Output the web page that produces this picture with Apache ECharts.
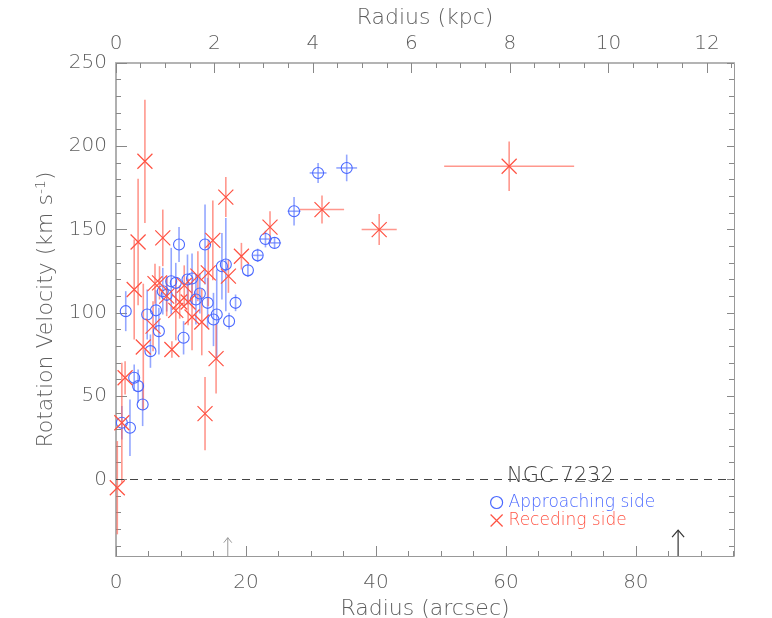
<!DOCTYPE html>
<html>
<head>
<meta charset="utf-8">
<script src="https://cdn.jsdelivr.net/npm/echarts@6/dist/echarts.min.js"></script>
<style>html,body{margin:0;padding:0;background:#fff;}#c{width:772px;height:618px;}</style>
</head>
<body>
<div id="c"></div>
<script>
// ---- data ----
// Approaching side: radius (arcsec), velocity (km/s), radius error, velocity error
const apprR    = [0.9, 1.5, 2.15, 2.8, 3.4, 4.1, 4.8, 5.3, 6.15, 6.6, 7.2, 7.8, 8.5, 9.2, 9.7, 10.4, 11.0, 11.7, 12.3, 12.9, 13.7, 14.1, 15.0, 15.5, 16.3, 16.9, 17.4, 18.4, 20.3, 21.8, 23.0, 24.4, 27.4, 31.1, 35.5];
const apprV    = [34, 101, 31, 61, 56, 45, 99, 77, 101.5, 89, 113, 110.8, 119, 118, 141, 85, 120, 120.6, 108, 111.6, 141, 106, 96, 99, 128, 129, 95, 106, 125.5, 134.5, 144.3, 142, 161, 184, 187];
const apprRErr = [0, 0, 0, 0, 0, 0, 0, 0, 0, 0, 0, 0, 0, 0, 0, 0, 0, 0, 0, 0, 0, 0, 0, 0, 0, 0, 0, 0, 0, 0.8, 1.0, 1.0, 1.0, 1.3, 1.6];
const apprVErr = [10, 12, 17, 8, 10, 13, 15, 10, 12, 14, 14, 10, 20, 12, 10.5, 10, 15, 15, 15, 12, 24, 15, 16, 27, 20, 28, 5, 5, 4, 4, 5, 3, 8.5, 6, 8];

// Receding side
const recR    = [0.2, 0.9, 1.4, 2.8, 3.4, 4.2, 4.45, 5.7, 6.0, 6.7, 7.2, 7.8, 8.6, 9.2, 9.8, 10.5, 11.1, 11.7, 12.6, 13.2, 13.7, 14.2, 14.9, 15.4, 16.9, 17.3, 19.3, 23.7, 31.7, 40.5, 60.5];
const recV    = [-5, 34, 61, 114, 142.5, 79.5, 191, 92, 117.5, 118, 145, 110, 78, 101.5, 106.5, 116.5, 106.5, 97.5, 122, 94.5, 39.5, 124, 143.5, 72.5, 169.5, 122, 134, 151.5, 162, 150, 188];
const recRErr = [0, 0, 0, 0, 0, 0, 0, 0, 0, 0, 0, 0, 0, 0, 0, 0, 0, 0, 0, 0, 0, 0, 0, 0, 0, 0, 0, 0, 3.4, 2.7, 10];
const recVErr = [28, 36, 10, 30, 38, 38, 37, 15, 12, 10, 17, 12, 5, 18, 10, 12, 14, 20, 15, 20, 22, 20, 24, 21, 12, 10, 8, 9.5, 8.4, 9.3, 14.8];

// Arrows at the bottom (radius in arcsec, top of arrow in km/s)
const arrowR   = [17.2, 86.5];
const arrowTop = [-35, -30.5];

// Axis ticks
const xMajor   = [0, 20, 40, 60, 80];
const xMinor   = [5, 10, 15, 25, 30, 35, 45, 50, 55, 65, 70, 75, 85, 90, 95];
const kpcMajor = [0, 2, 4, 6, 8, 10, 12];
const kpcMinor = [0.5, 1, 1.5, 2.5, 3, 3.5, 4.5, 5, 5.5, 6.5, 7, 7.5, 8.5, 9, 9.5, 10.5, 11, 11.5, 12.5];
const yMajor   = [0, 50, 100, 150, 200, 250];
const yMinor   = [-40, -30, -20, -10, 10, 20, 30, 40, 60, 70, 80, 90, 110, 120, 130, 140, 160, 170, 180, 190, 210, 220, 230, 240];

const X_MAX = 95.1, KPC_MAX = 12.55, Y_MIN = -46, Y_MAX = 250;

// ---- styling ----
const FONT = 'DejaVu Sans';
const TXT = '#5e5e5e';
const BLUE = '#4a68ff';
const RED = '#ff5242';
const BLUE_ERR = 'rgba(90,120,255,0.65)';
const RED_ERR = 'rgba(255,95,80,0.65)';

function zip4(a, b, c, d) { return a.map((v, i) => [v, b[i], c[i], d[i]]); }
const apprData = zip4(apprR, apprV, apprRErr, apprVErr);
const recData = zip4(recR, recV, recRErr, recVErr);
const arrowData = arrowR.map((r, i) => [r, arrowTop[i], i]);

function errRender(color) {
  return function (params, api) {
    const x = api.value(0), y = api.value(1), ex = api.value(2), ey = api.value(3);
    const ch = [];
    if (ey > 0) {
      const p1 = api.coord([x, y - ey]), p2 = api.coord([x, y + ey]);
      ch.push({ type: 'line', shape: { x1: p1[0], y1: p1[1], x2: p2[0], y2: p2[1] }, style: { stroke: color, lineWidth: 1.6 } });
    }
    if (ex > 0) {
      const p1 = api.coord([x - ex, y]), p2 = api.coord([x + ex, y]);
      ch.push({ type: 'line', shape: { x1: p1[0], y1: p1[1], x2: p2[0], y2: p2[1] }, style: { stroke: color, lineWidth: 1.6 } });
    }
    return { type: 'group', children: ch };
  };
}

function arrowRender(params, api) {
  const x = api.value(0), top = api.value(1), idx = api.value(2);
  const b = api.coord([x, Y_MIN]), t = api.coord([x, top]);
  const col = idx === 0 ? '#9a9a9a' : '#333';
  const lw = idx === 0 ? 1 : 1.2;
  const hw = idx === 0 ? 4 : 6, hh = idx === 0 ? 5 : 7;
  return {
    type: 'group', children: [
      { type: 'line', shape: { x1: b[0], y1: b[1], x2: t[0], y2: t[1] }, style: { stroke: col, lineWidth: lw } },
      { type: 'polyline', shape: { points: [[t[0] - hw, t[1] + hh], [t[0], t[1]], [t[0] + hw, t[1] + hh]] }, style: { stroke: col, lineWidth: lw, fill: null } }
    ]
  };
}

const labelStyle = { fontFamily: FONT, fontSize: 20, fontWeight: 200, color: TXT };
const nameStyle = { fontFamily: FONT, fontSize: 22, fontWeight: 200, color: TXT };

function xAxisDef(pos, max, major, minor, isMajor, extra) {
  return Object.assign({
    type: 'value', position: pos, min: 0, max: max,
    splitLine: { show: false },
    axisLine: { show: isMajor, onZero: false, lineStyle: { color: pos === 'top' ? '#b4b4b4' : '#999', width: pos === 'top' ? 2 : 1 } },
    axisTick: { show: true, inside: true, length: isMajor ? 10 : 5, customValues: isMajor ? major : minor, lineStyle: { color: '#888' } },
    axisLabel: { show: false }
  }, extra || {});
}
function yAxisDef(pos, major, minor, isMajor, extra) {
  return Object.assign({
    type: 'value', position: pos, min: Y_MIN, max: Y_MAX,
    splitLine: { show: false },
    axisLine: { show: isMajor, onZero: false, lineStyle: { color: pos === 'left' ? '#b0b0b0' : '#999', width: pos === 'left' ? 2 : 1 } },
    axisTick: { show: true, inside: true, length: isMajor ? (pos === 'left' ? 11 : 7) : 5, customValues: isMajor ? major : minor, lineStyle: { color: '#888' } },
    axisLabel: { show: false }
  }, extra || {});
}

const chart = echarts.init(document.getElementById('c'), null, { renderer: 'canvas' });
chart.setOption({
  animation: false,
  backgroundColor: '#fff',
  grid: { left: 116, right: 38, top: 63, bottom: 62, containLabel: false, outerBoundsMode: 'none' },
  title: {
    text: 'NGC 7232', left: 507, top: 466, padding: 0,
    textStyle: { fontFamily: FONT, fontSize: 21, fontWeight: 200, color: '#444' }
  },
  legend: {
    left: 485, top: 489, orient: 'vertical', itemWidth: 14, itemHeight: 12, itemGap: 1,
    textStyle: { fontFamily: FONT, fontSize: 17, fontWeight: 200 },
    data: [
      { name: 'Approaching side', icon: 'circle', itemStyle: { color: 'rgba(0,0,0,0)', borderColor: BLUE, borderWidth: 1.2 }, textStyle: { color: BLUE } },
      { name: 'Receding side', icon: 'path://M0,0L10,10M10,0L0,10', itemStyle: { color: 'rgba(0,0,0,0)', borderColor: RED, borderWidth: 1.2 }, textStyle: { color: RED } }
    ]
  },
  xAxis: [
    xAxisDef('bottom', X_MAX, xMajor, xMinor, true, {
      name: 'Radius (arcsec)', nameLocation: 'middle', nameGap: 34, nameTextStyle: nameStyle,
      axisLabel: Object.assign({ show: true, margin: 17, customValues: xMajor }, labelStyle)
    }),
    xAxisDef('bottom', X_MAX, xMajor, xMinor, false),
    xAxisDef('top', KPC_MAX, kpcMajor, kpcMinor, true, {
      name: 'Radius (kpc)', nameLocation: 'middle', nameGap: 28, nameTextStyle: nameStyle,
      axisLabel: Object.assign({ show: true, margin: 9, customValues: kpcMajor }, labelStyle)
    }),
    xAxisDef('top', KPC_MAX, kpcMajor, kpcMinor, false)
  ],
  yAxis: [
    yAxisDef('left', yMajor, yMinor, true, {
      name: 'Rotation Velocity (km s{sup|-1})', nameLocation: 'middle', nameGap: 58,
      nameTextStyle: Object.assign({ rich: { sup: { fontFamily: FONT, fontSize: 14, fontWeight: 200, color: TXT, verticalAlign: 'top', padding: [0, 0, 10, 0] } } }, nameStyle),
      axisLabel: Object.assign({ show: true, margin: 9, customValues: yMajor }, labelStyle)
    }),
    yAxisDef('left', yMajor, yMinor, false),
    yAxisDef('right', yMajor, yMinor, true),
    yAxisDef('right', yMajor, yMinor, false)
  ],
  series: [
    {
      type: 'custom', name: 'apprErr', xAxisIndex: 0, yAxisIndex: 0, data: apprData,
      encode: { x: 0, y: 1 }, renderItem: errRender(BLUE_ERR), silent: true, z: 2,
      markLine: {
        silent: true, symbol: 'none', label: { show: false },
        lineStyle: { color: '#444', width: 1, type: [8, 6] },
        data: [{ yAxis: 0 }]
      }
    },
    {
      type: 'custom', name: 'recErr', xAxisIndex: 0, yAxisIndex: 0, data: recData,
      encode: { x: 0, y: 1 }, renderItem: errRender(RED_ERR), silent: true, z: 2
    },
    {
      type: 'scatter', name: 'Approaching side', xAxisIndex: 0, yAxisIndex: 0,
      data: apprData, symbol: 'circle', symbolSize: 11, z: 3,
      itemStyle: { color: 'rgba(0,0,0,0)', borderColor: BLUE, borderWidth: 1.1, opacity: 1 }
    },
    {
      type: 'scatter', name: 'Receding side', xAxisIndex: 0, yAxisIndex: 0,
      data: recData, symbol: 'path://M0,0L10,10M10,0L0,10', symbolSize: 15, z: 3,
      itemStyle: { color: 'rgba(0,0,0,0)', borderColor: RED, borderWidth: 1.2, opacity: 1 }
    },
    {
      type: 'custom', name: 'arrows', xAxisIndex: 0, yAxisIndex: 0, data: arrowData,
      encode: { x: 0, y: 1 }, renderItem: arrowRender, silent: true, z: 4
    }
  ]
});
</script>
</body>
</html>
